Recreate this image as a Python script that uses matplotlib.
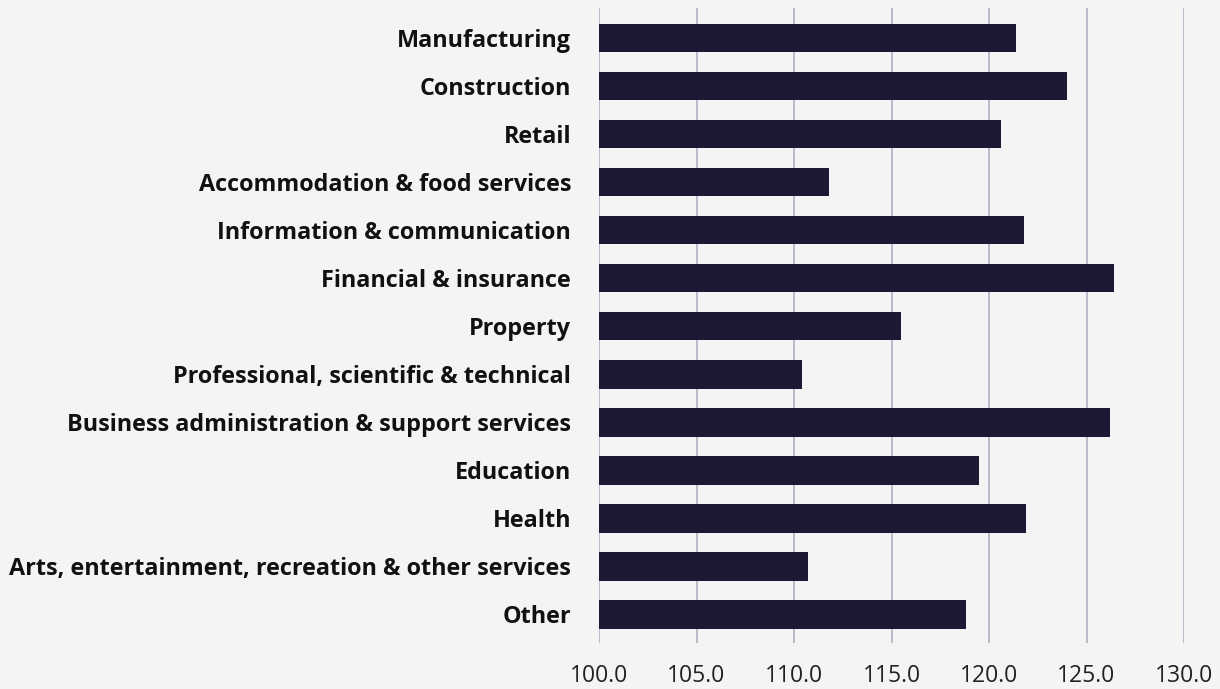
import matplotlib
matplotlib.use('Agg')
import matplotlib.pyplot as plt

# Index values by sector
sectors = [
    'Manufacturing',
    'Construction',
    'Retail',
    'Accommodation & food services',
    'Information & communication',
    'Financial & insurance',
    'Property',
    'Professional, scientific & technical',
    'Business administration & support services',
    'Education',
    'Health',
    'Arts, entertainment, recreation & other services',
    'Other',
]
values = [121.4, 124.0, 120.6, 111.8, 121.8, 126.4, 115.5, 110.4, 126.2, 119.5, 121.9, 110.7, 118.8]
x_ticks = [100, 105, 110, 115, 120, 125, 130]

bg = '#f4f4f4'
bar_color = '#1f1835'
grid_color = '#b9b2c6'

plt.rcParams['font.family'] = ['Open Sans', 'DejaVu Sans']

fig = plt.figure(figsize=(12.2, 6.89), dpi=100, facecolor=bg)
ax = fig.add_axes([0.491, 0.0668, 0.4795, 0.9216], facecolor=bg)

ypos = list(range(len(sectors)))
ax.barh(ypos, [v - 100 for v in values], left=100, height=0.6, color=bar_color, zorder=3)

ax.set_xlim(100, 130)
ax.set_ylim(len(sectors) - 0.4, -0.625)
ax.set_xticks(x_ticks)
ax.set_xticklabels([f'{t:.1f}' for t in x_ticks])
ax.set_yticks(ypos)
ax.set_yticklabels(sectors, fontweight='bold')

ax.grid(axis='x', color=grid_color, linewidth=1.3, zorder=0)
ax.grid(axis='y', visible=False)
for s in ax.spines.values():
    s.set_visible(False)

ax.tick_params(axis='y', length=0, pad=20, labelsize=16.8, labelcolor='#111111')
ax.tick_params(axis='x', length=0, pad=15, labelsize=16.5, labelcolor='#222222')

fig.savefig('out.png', dpi=100, facecolor=bg)
